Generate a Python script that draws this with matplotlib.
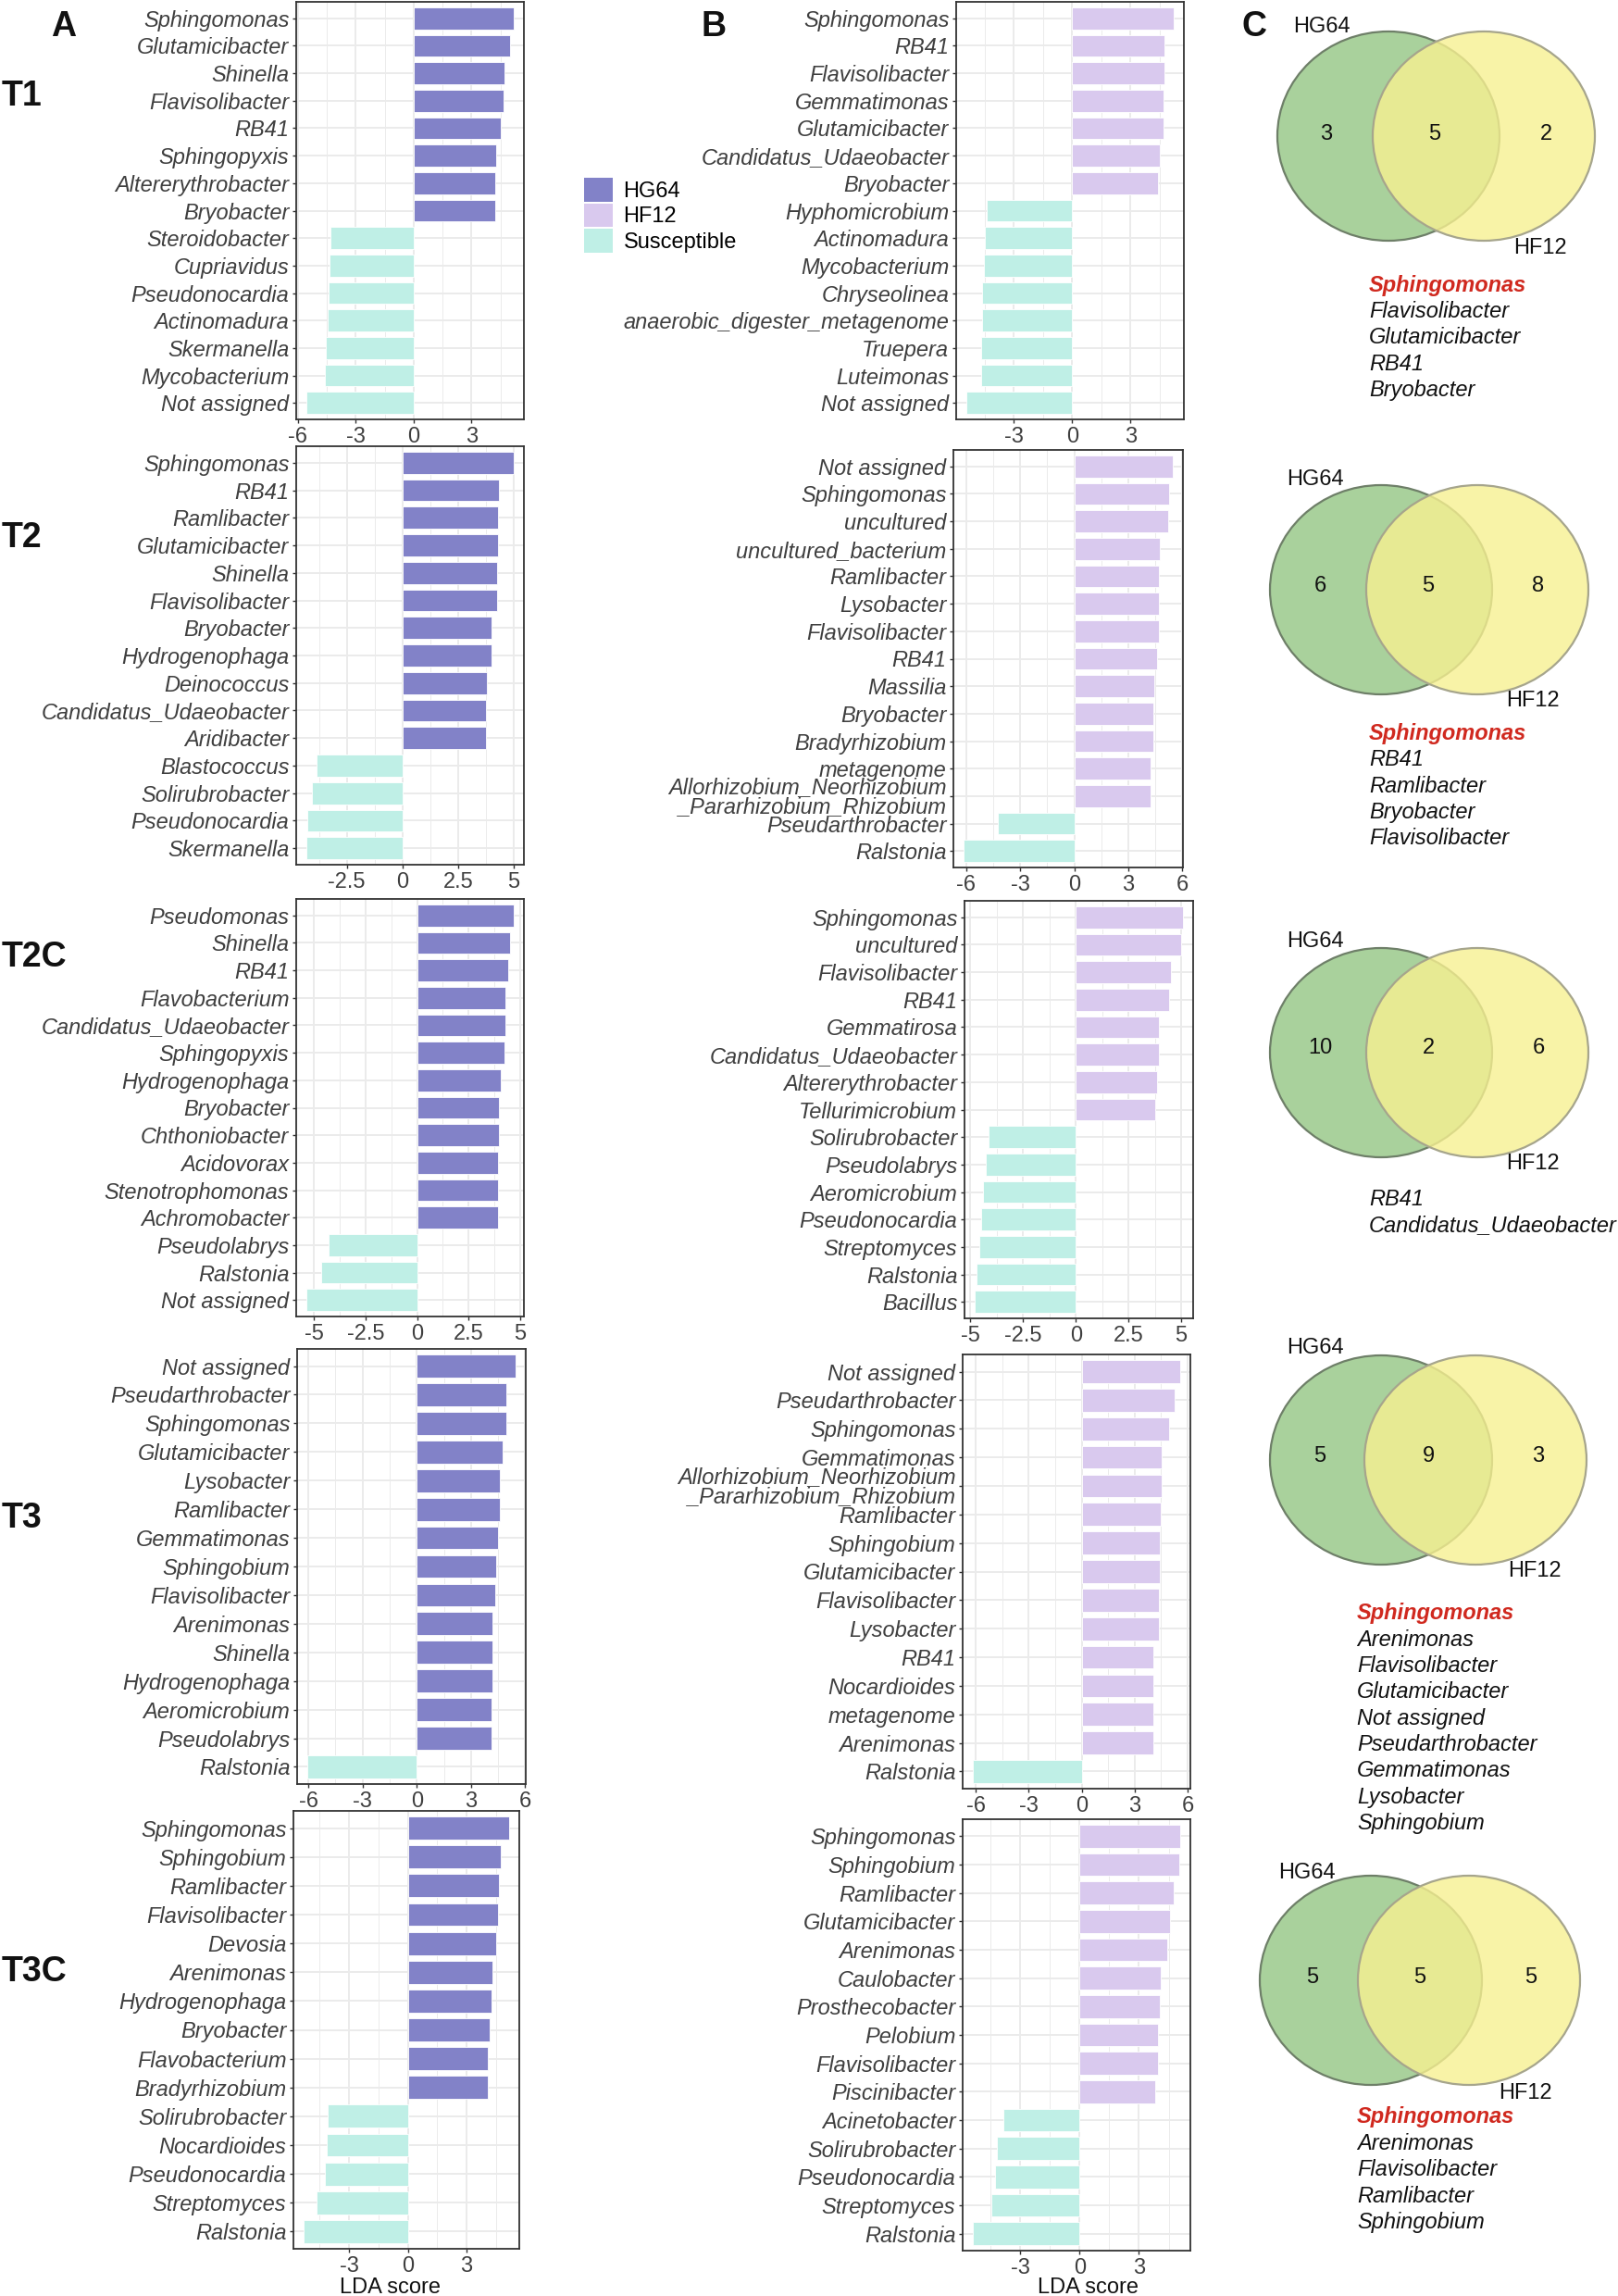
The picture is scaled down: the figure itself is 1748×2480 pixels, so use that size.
import matplotlib
matplotlib.use('Agg')
import matplotlib.pyplot as plt
from matplotlib.patches import Ellipse, Patch
import numpy as np

W, H = 1749, 2480
plt.rcParams['font.family'] = ['Liberation Sans', 'DejaVu Sans']

COL_HG64 = '#8282C8'
COL_HF12 = '#D9C9EE'
COL_SUS = '#BFEFE6'

groups = ['HG64', 'HF12', 'Susceptible']
group_colors = [COL_HG64, COL_HF12, COL_SUS]

# ---------------- data: LDA scores ----------------
A_T1_taxa = ['Sphingomonas', 'Glutamicibacter', 'Shinella', 'Flavisolibacter', 'RB41', 'Sphingopyxis',
             'Altererythrobacter', 'Bryobacter', 'Steroidobacter', 'Cupriavidus', 'Pseudonocardia',
             'Actinomadura', 'Skermanella', 'Mycobacterium', 'Not assigned']
A_T1_lda = [5.18, 5.02, 4.71, 4.65, 4.53, 4.29, 4.25, 4.24, -4.31, -4.35, -4.40, -4.44, -4.53, -4.58, -5.55]
A_T1_ticks = ['-6', '-3', '0', '3']

B_T1_taxa = ['Sphingomonas', 'RB41', 'Flavisolibacter', 'Gemmatimonas', 'Glutamicibacter',
             'Candidatus_Udaeobacter', 'Bryobacter', 'Hyphomicrobium', 'Actinomadura', 'Mycobacterium',
             'Chryseolinea', 'anaerobic_digester_metagenome', 'Truepera', 'Luteimonas', 'Not assigned']
B_T1_lda = [5.21, 4.74, 4.72, 4.70, 4.68, 4.51, 4.43, -4.38, -4.51, -4.53, -4.62, -4.62, -4.68, -4.68, -5.43]
B_T1_ticks = ['-3', '0', '3']

A_T2_taxa = ['Sphingomonas', 'RB41', 'Ramlibacter', 'Glutamicibacter', 'Shinella', 'Flavisolibacter',
             'Bryobacter', 'Hydrogenophaga', 'Deinococcus', 'Candidatus_Udaeobacter', 'Aridibacter',
             'Blastococcus', 'Solirubrobacter', 'Pseudonocardia', 'Skermanella']
A_T2_lda = [5.00, 4.34, 4.31, 4.31, 4.26, 4.26, 4.01, 3.99, 3.80, 3.77, 3.74, -3.86, -4.05, -4.26, -4.31]
A_T2_ticks = ['-2.5', '0', '2.5', '5']

B_T2_taxa = ['Not assigned', 'Sphingomonas', 'uncultured', 'uncultured_bacterium', 'Ramlibacter',
             'Lysobacter', 'Flavisolibacter', 'RB41', 'Massilia', 'Bryobacter', 'Bradyrhizobium',
             'metagenome', 'Allorhizobium_Neorhizobium\n_Pararhizobium_Rhizobium', 'Pseudarthrobacter',
             'Ralstonia']
B_T2_lda = [5.46, 5.25, 5.23, 4.77, 4.68, 4.68, 4.68, 4.62, 4.43, 4.39, 4.37, 4.22, 4.22, -4.24, -6.13]
B_T2_ticks = ['-6', '-3', '0', '3', '6']

A_T2C_taxa = ['Pseudomonas', 'Shinella', 'RB41', 'Flavobacterium', 'Candidatus_Udaeobacter', 'Sphingopyxis',
              'Hydrogenophaga', 'Bryobacter', 'Chthoniobacter', 'Acidovorax', 'Stenotrophomonas',
              'Achromobacter', 'Pseudolabrys', 'Ralstonia', 'Not assigned']
A_T2C_lda = [4.68, 4.51, 4.42, 4.30, 4.27, 4.23, 4.08, 3.96, 3.96, 3.91, 3.91, 3.91, -4.29, -4.63, -5.36]
A_T2C_ticks = ['-5', '-2.5', '0', '2.5', '5']

B_T2C_taxa = ['Sphingomonas', 'uncultured', 'Flavisolibacter', 'RB41', 'Gemmatirosa', 'Candidatus_Udaeobacter',
              'Altererythrobacter', 'Tellurimicrobium', 'Solirubrobacter', 'Pseudolabrys', 'Aeromicrobium',
              'Pseudonocardia', 'Streptomyces', 'Ralstonia', 'Bacillus']
B_T2C_lda = [5.08, 4.99, 4.51, 4.45, 3.94, 3.94, 3.88, 3.79, -4.13, -4.29, -4.42, -4.49, -4.58, -4.70, -4.79]
B_T2C_ticks = ['-5', '-2.5', '0', '2.5', '5']

A_T3_taxa = ['Not assigned', 'Pseudarthrobacter', 'Sphingomonas', 'Glutamicibacter', 'Lysobacter',
             'Ramlibacter', 'Gemmatimonas', 'Sphingobium', 'Flavisolibacter', 'Arenimonas', 'Shinella',
             'Hydrogenophaga', 'Aeromicrobium', 'Pseudolabrys', 'Ralstonia']
A_T3_lda = [5.46, 4.97, 4.97, 4.77, 4.58, 4.58, 4.48, 4.40, 4.36, 4.20, 4.20, 4.20, 4.16, 4.12, -6.05]
A_T3_ticks = ['-6', '-3', '0', '3', '6']

B_T3_taxa = ['Not assigned', 'Pseudarthrobacter', 'Sphingomonas', 'Gemmatimonas',
             'Allorhizobium_Neorhizobium\n_Pararhizobium_Rhizobium', 'Ramlibacter', 'Sphingobium',
             'Glutamicibacter', 'Flavisolibacter', 'Lysobacter', 'RB41', 'Nocardioides', 'metagenome',
             'Arenimonas', 'Ralstonia']
B_T3_lda = [5.57, 5.26, 4.96, 4.53, 4.53, 4.49, 4.43, 4.43, 4.40, 4.36, 4.06, 4.06, 4.06, 4.06, -6.15]
B_T3_ticks = ['-6', '-3', '0', '3', '6']

A_T3C_taxa = ['Sphingomonas', 'Sphingobium', 'Ramlibacter', 'Flavisolibacter', 'Devosia', 'Arenimonas',
              'Hydrogenophaga', 'Bryobacter', 'Flavobacterium', 'Bradyrhizobium', 'Solirubrobacter',
              'Nocardioides', 'Pseudonocardia', 'Streptomyces', 'Ralstonia']
A_T3C_lda = [5.17, 4.77, 4.65, 4.59, 4.50, 4.32, 4.29, 4.18, 4.09, 4.07, -4.11, -4.16, -4.23, -4.67, -5.32]
A_T3C_ticks = ['-3', '0', '3']

B_T3C_taxa = ['Sphingomonas', 'Sphingobium', 'Ramlibacter', 'Glutamicibacter', 'Arenimonas', 'Caulobacter',
              'Prosthecobacter', 'Pelobium', 'Flavisolibacter', 'Piscinibacter', 'Acinetobacter',
              'Solirubrobacter', 'Pseudonocardia', 'Streptomyces', 'Ralstonia']
B_T3C_lda = [5.07, 5.05, 4.74, 4.55, 4.42, 4.10, 4.06, 3.97, 3.95, 3.83, -3.83, -4.16, -4.27, -4.46, -5.37]
B_T3C_ticks = ['-3', '0', '3']

row_labels = ['T1', 'T2', 'T2C', 'T3', 'T3C']

# ---------------- data: Venn diagrams ----------------
venn_only_hg64 = [3, 6, 10, 5, 5]
venn_shared = [5, 5, 2, 9, 5]
venn_only_hf12 = [2, 8, 6, 3, 5]
venn_lists = [
    ['Sphingomonas', 'Flavisolibacter', 'Glutamicibacter', 'RB41', 'Bryobacter'],
    ['Sphingomonas', 'RB41', 'Ramlibacter', 'Bryobacter', 'Flavisolibacter'],
    ['RB41', 'Candidatus_Udaeobacter'],
    ['Sphingomonas', 'Arenimonas', 'Flavisolibacter', 'Glutamicibacter', 'Not assigned',
     'Pseudarthrobacter', 'Gemmatimonas', 'Lysobacter', 'Sphingobium'],
    ['Sphingomonas', 'Arenimonas', 'Flavisolibacter', 'Ramlibacter', 'Sphingobium'],
]
highlight_taxon = 'Sphingomonas'

# ---------------- layout (pixels) ----------------
A_rects = [(320, 2, 566, 453), (320, 482, 566, 934), (320, 971, 566, 1422),
           (321, 1457, 568, 1927), (317, 1956, 561, 2429)]
B_rects = [(1033, 2, 1279, 453), (1030, 486, 1278, 937), (1042, 973, 1289, 1424),
           (1040, 1463, 1286, 1932), (1040, 1965, 1286, 2431)]
row_label_y = [104, 581, 1034, 1640, 2130]

fig = plt.figure(figsize=(W / 100, H / 100), dpi=100)

TXT = '#3F3F3F'
FRAME = '#333333'
GRID = '#EBEBEB'


def draw_panel(rect, taxa, lda, pos_color, ticklabels):
    x0, y0, x1, y1 = rect
    ax = fig.add_axes([x0 / W, 1 - y1 / H, (x1 - x0) / W, (y1 - y0) / H])
    n = len(taxa)
    ypos = np.arange(n)[::-1]
    vals = np.array(lda)
    colors = [pos_color if v > 0 else COL_SUS for v in vals]
    ax.barh(ypos, vals, height=0.8, color=colors, edgecolor='white', linewidth=0.6, zorder=3)
    lo, hi = min(vals.min(), 0), max(vals.max(), 0)
    span = hi - lo
    xl = (lo - 0.05 * span, hi + 0.05 * span)
    ax.set_xlim(*xl)
    ax.set_ylim(-0.6, n - 0.4)
    ticks = [float(t) for t in ticklabels]
    ax.set_xticks(ticks)
    ax.set_xticklabels(ticklabels)
    step = ticks[1] - ticks[0]
    minors = np.arange(ticks[0] - step / 2, ticks[-1] + step, step)
    minors = [m for m in minors if xl[0] < m < xl[1]]
    ax.set_xticks(minors, minor=True)
    ax.set_yticks(ypos)
    ax.set_yticklabels(taxa, fontstyle='italic', linespacing=0.85)
    ax.tick_params(axis='both', which='major', length=3, width=1.0, color=FRAME, pad=2.5,
                   labelsize=17, labelcolor=TXT)
    ax.tick_params(axis='x', which='minor', length=0)
    ax.grid(True, which='major', color=GRID, linewidth=1.4, zorder=0)
    ax.grid(True, which='minor', axis='x', color=GRID, linewidth=0.7, zorder=0)
    ax.set_axisbelow(True)
    for s in ax.spines.values():
        s.set_color(FRAME)
        s.set_linewidth(1.3)
    return ax


A_data = [(A_T1_taxa, A_T1_lda, A_T1_ticks), (A_T2_taxa, A_T2_lda, A_T2_ticks),
          (A_T2C_taxa, A_T2C_lda, A_T2C_ticks), (A_T3_taxa, A_T3_lda, A_T3_ticks),
          (A_T3C_taxa, A_T3C_lda, A_T3C_ticks)]
B_data = [(B_T1_taxa, B_T1_lda, B_T1_ticks), (B_T2_taxa, B_T2_lda, B_T2_ticks),
          (B_T2C_taxa, B_T2C_lda, B_T2C_ticks), (B_T3_taxa, B_T3_lda, B_T3_ticks),
          (B_T3C_taxa, B_T3C_lda, B_T3C_ticks)]

for rect, (t, v, tk) in zip(A_rects, A_data):
    draw_panel(rect, t, v, COL_HG64, tk)
for rect, (t, v, tk) in zip(B_rects, B_data):
    draw_panel(rect, t, v, COL_HF12, tk)

# legend
handles = [Patch(facecolor=c, edgecolor='none', label=g) for g, c in zip(groups, group_colors)]
fig.legend(handles=handles, loc='upper left', bbox_to_anchor=(631 / W, 1 - 192 / H), frameon=False,
           fontsize=17, handlelength=1.3, handleheight=1.3, handletextpad=0.5, labelspacing=0.08,
           borderpad=0, borderaxespad=0)

# overlay axes in pixel coordinates for labels and Venn diagrams
ov = fig.add_axes([0, 0, 1, 1], facecolor='none')
ov.set_xlim(0, W)
ov.set_ylim(H, 0)
ov.axis('off')

for lab, (x, y) in zip(['A', 'B', 'C'], [(55, 29), (758, 29), (1342, 29)]):
    ov.text(x, y, lab, fontsize=27, fontweight='bold', color='#111111', ha='left', va='center')
for lab, y in zip(row_labels, row_label_y):
    ov.text(2, y, lab, fontsize=27, fontweight='bold', color='#111111', ha='left', va='center')

ov.text(422, 2471, 'LDA score', fontsize=17, color='#111111', ha='center', va='center')
ov.text(1176, 2471, 'LDA score', fontsize=17, color='#111111', ha='center', va='center')

venn_layout = [
    dict(hg=(1397, 29), g=1500, y=1603, cy=147, nums=(1433, 1550, 1670), ny=145, hf=(1635, 268), lst=(1479, 308, 28.4)),
    dict(hg=(1390, 518), g=1492, y=1596, cy=637, nums=(1426, 1543, 1662), ny=633, hf=(1627, 757), lst=(1479, 792, 28.5)),
    dict(hg=(1390, 1017), g=1492, y=1596, cy=1137, nums=(1426, 1543, 1662), ny=1132, hf=(1627, 1257), lst=(1479, 1295, 28.5)),
    dict(hg=(1390, 1456), g=1492, y=1594, cy=1577, nums=(1426, 1543, 1662), ny=1573, hf=(1629, 1697), lst=(1466, 1743, 28.3)),
    dict(hg=(1381, 2023), g=1481, y=1587, cy=2139, nums=(1418, 1534, 1654), ny=2136, hf=(1619, 2261), lst=(1466, 2287, 28.5)),
]
RX, RY = 120, 113
for i, L in enumerate(venn_layout):
    ov.add_patch(Ellipse((L['g'], L['cy']), 2 * RX, 2 * RY, facecolor='#A9D19C',
                         edgecolor='#6E7F68', linewidth=1.6, zorder=2))
    ov.add_patch(Ellipse((L['y'], L['cy']), 2 * RX, 2 * RY, facecolor=(0.97, 0.945, 0.57, 0.8),
                         edgecolor='#A6A58C', linewidth=1.6, zorder=3))
    counts = [venn_only_hg64[i], venn_shared[i], venn_only_hf12[i]]
    for nx, c in zip(L['nums'], counts):
        ov.text(nx, L['ny'], str(c), fontsize=17, color='#111111', ha='center', va='center', zorder=5)
    ov.text(L['hg'][0], L['hg'][1], 'HG64', fontsize=17, color='#111111', ha='left', va='center', zorder=5)
    ov.text(L['hf'][0], L['hf'][1], 'HF12', fontsize=17, color='#111111', ha='left', va='center', zorder=5)
    lx, ly, dy = L['lst']
    for k, name in enumerate(venn_lists[i]):
        if name == highlight_taxon:
            ov.text(lx, ly + k * dy, name, fontsize=17, fontstyle='italic', fontweight='bold',
                    color='#D0291F', ha='left', va='center')
        else:
            ov.text(lx, ly + k * dy, name, fontsize=17, fontstyle='italic', color='#111111',
                    ha='left', va='center')

fig.savefig('out.png', dpi=100)
